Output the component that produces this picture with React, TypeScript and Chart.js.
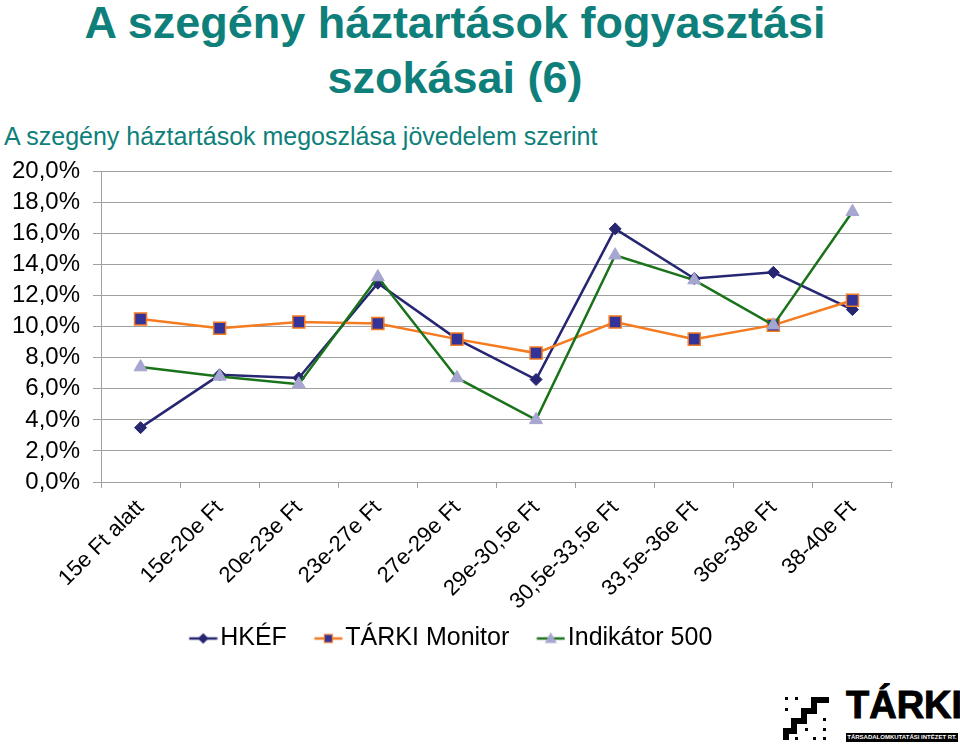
import React, { useEffect, useRef } from "react";
import { Chart, registerables } from "chart.js";

Chart.register(...registerables);

const categories = [
  "15e Ft alatt",
  "15e-20e Ft",
  "20e-23e Ft",
  "23e-27e Ft",
  "27e-29e Ft",
  "29e-30,5e Ft",
  "30,5e-33,5e Ft",
  "33,5e-36e Ft",
  "36e-38e Ft",
  "38-40e Ft",
];
const hkef = [3.5, 6.9, 6.7, 12.8, 9.2, 6.6, 16.3, 13.1, 13.5, 11.1];
const tarkiMonitor = [10.5, 9.9, 10.3, 10.2, 9.2, 8.3, 10.3, 9.2, 10.1, 11.7];
const indikator500 = [7.4, 6.8, 6.3, 13.2, 6.7, 4.0, 14.6, 13.0, 10.1, 17.4];
const seriesNames = ["HKÉF", "TÁRKI Monitor", "Indikátor 500"];
const yMin = 0;
const yMax = 20;
const yStep = 2;

const FONT = "'Liberation Sans', Arial, sans-serif";
const TEAL = "#0E7F7A";

const NAVY = "#262673";
const ORANGE = "#F47B20";
const SQUARE_FILL = "#333399";
const GREEN = "#1A731A";
const TRI_FILL = "#A6A6D0";

function legendIcon(kind: string, lineColor: string, fill: string, border: string) {
  const W = 48;
  const H = 18;
  const c = document.createElement("canvas");
  c.width = W;
  c.height = H;
  const ctx = c.getContext("2d")!;
  const cy = H / 2;
  ctx.strokeStyle = lineColor;
  ctx.lineWidth = 2.5;
  ctx.beginPath();
  ctx.moveTo(19.5, cy);
  ctx.lineTo(47.5, cy);
  ctx.stroke();
  const cx = 33.5;
  ctx.fillStyle = fill;
  ctx.strokeStyle = border;
  ctx.lineWidth = 1.2;
  ctx.beginPath();
  if (kind === "diamond") {
    ctx.moveTo(cx, cy - 4.5);
    ctx.lineTo(cx + 4.5, cy);
    ctx.lineTo(cx, cy + 4.5);
    ctx.lineTo(cx - 4.5, cy);
    ctx.closePath();
  } else if (kind === "square") {
    ctx.rect(cx - 4, cy - 4, 8, 8);
  } else {
    ctx.moveTo(cx, cy - 5);
    ctx.lineTo(cx + 5, cy + 4);
    ctx.lineTo(cx - 5, cy + 4);
    ctx.closePath();
  }
  ctx.fill();
  ctx.stroke();
  return c;
}

export default function App() {
  const ref = useRef<HTMLCanvasElement>(null);

  useEffect(() => {
    Chart.defaults.font.family = FONT;
    const icons = [
      legendIcon("diamond", NAVY, NAVY, NAVY),
      legendIcon("square", ORANGE, SQUARE_FILL, ORANGE),
      legendIcon("triangle", GREEN, TRI_FILL, TRI_FILL),
    ];
    const chart = new Chart(ref.current!, {
      type: "line",
      data: {
        labels: categories,
        datasets: [
          {
            label: seriesNames[0],
            data: hkef,
            order: 3,
            borderColor: NAVY,
            borderWidth: 2.5,
            pointStyle: "rectRot",
            pointRadius: 6,
            pointBackgroundColor: NAVY,
            pointBorderColor: NAVY,
            pointBorderWidth: 1,
            tension: 0,
          },
          {
            label: seriesNames[1],
            data: tarkiMonitor,
            order: 2,
            borderColor: ORANGE,
            borderWidth: 2.5,
            pointStyle: "rect",
            pointRadius: 8.5,
            pointBackgroundColor: SQUARE_FILL,
            pointBorderColor: ORANGE,
            pointBorderWidth: 1.5,
            tension: 0,
          },
          {
            label: seriesNames[2],
            data: indikator500,
            order: 1,
            borderColor: GREEN,
            borderWidth: 2.5,
            pointStyle: "triangle",
            pointRadius: 7.5,
            pointBackgroundColor: TRI_FILL,
            pointBorderColor: TRI_FILL,
            pointBorderWidth: 1,
            tension: 0,
          },
        ],
      },
      options: {
        animation: false,
        responsive: false,
        maintainAspectRatio: false,
        layout: { padding: { top: 0, right: 68, bottom: 1, left: 0 } },
        plugins: {
          tooltip: { enabled: false },
          title: { display: false },
          legend: {
            display: true,
            position: "bottom",
            labels: {
              usePointStyle: true,
              pointStyleWidth: 28,
              padding: 18,
              color: "#000",
              font: { family: FONT, size: 25 },
              sort: (a: any, b: any) => a.datasetIndex - b.datasetIndex,
              generateLabels: (ch: any) => {
                const items = (Chart.defaults.plugins.legend.labels as any).generateLabels(ch);
                return items.map((it: any) => ({ ...it, pointStyle: icons[it.datasetIndex] }));
              },
            },
          },
        },
        scales: {
          x: {
            type: "category",
            offset: true,
            afterFit: (s: any) => {
              s.height = 126;
            },
            grid: {
              display: true,
              drawOnChartArea: false,
              drawTicks: true,
              tickLength: 6,
              color: "#A0A0A0",
              offset: true,
            },
            border: { display: true, color: "#A0A0A0", width: 1 },
            ticks: {
              autoSkip: false,
              maxRotation: 45,
              minRotation: 45,
              padding: 7,
              color: "#000",
              font: { family: FONT, size: 22 },
            },
          },
          y: {
            min: yMin,
            max: yMax,
            afterFit: (s: any) => {
              s.width = 101;
            },
            grid: {
              color: "#A0A0A0",
              lineWidth: 1,
              drawTicks: true,
              tickLength: 8,
            },
            border: { display: true, color: "#A0A0A0", width: 1 },
            ticks: {
              stepSize: yStep,
              autoSkip: false,
              padding: 13,
              color: "#000",
              font: { family: FONT, size: 24 },
              callback: (v: any) => Number(v).toFixed(1).replace(".", ",") + "%",
            },
          },
        },
      },
    });
    return () => chart.destroy();
  }, []);

  const dot = (x: number, y: number, k: number) => (
    <rect key={"d" + k} x={x} y={y} width={3} height={3} fill="#000" />
  );
  const dots = [
    [2, 3], [12, 3], [2, 14], [30, 14], [12, 24], [40, 24], [22, 34], [40, 34], [12, 43], [30, 43], [40, 43],
  ];

  return (
    <div
      style={{
        position: "absolute",
        left: 0,
        top: 0,
        width: 960,
        height: 745,
        background: "#fff",
        fontFamily: FONT,
        overflow: "hidden",
      }}
    >
      <div
        style={{
          position: "absolute",
          left: 0,
          top: 0,
          width: 910,
          textAlign: "center",
          fontSize: 45,
          lineHeight: "45px",
          fontWeight: "bold",
          color: TEAL,
          whiteSpace: "nowrap",
        }}
      >
        A szegény háztartások fogyasztási
      </div>
      <div
        style={{
          position: "absolute",
          left: 0,
          top: 55,
          width: 910,
          textAlign: "center",
          fontSize: 45,
          lineHeight: "45px",
          fontWeight: "bold",
          color: TEAL,
          whiteSpace: "nowrap",
        }}
      >
        szokásai (6)
      </div>
      <div
        style={{
          position: "absolute",
          left: 4,
          top: 124,
          fontSize: 25,
          lineHeight: "25px",
          color: TEAL,
          whiteSpace: "nowrap",
        }}
      >
        A szegény háztartások megoszlása jövedelem szerint
      </div>
      <canvas
        ref={ref}
        width={960}
        height={518}
        style={{ position: "absolute", left: 0, top: 144, width: 960, height: 518 }}
      />
      <svg
        width={46}
        height={48}
        style={{ position: "absolute", left: 783, top: 694 }}
      >
        <path
          d="M0 46 L0 34 L8 34 L8 24 L18 24 L18 14 L28 14 L28 3 L46 3 L46 9 L34 9 L34 20 L24 20 L24 30 L14 30 L14 40 L6 40 L6 46 Z"
          fill="#000"
        />
        {dots.map((d, i) => dot(d[0], d[1], i))}
      </svg>
      <div
        style={{
          position: "absolute",
          left: 846,
          top: 686,
          width: 112,
          textAlign: "center",
          fontSize: 38,
          lineHeight: "38px",
          fontWeight: "bold",
          color: "#000",
          WebkitTextStroke: "1px #000",
          whiteSpace: "nowrap",
        }}
      >
        TÁRKI
      </div>
      <div
        style={{
          position: "absolute",
          left: 846,
          top: 733,
          width: 112,
          height: 9,
          background: "#000",
          color: "#fff",
          fontSize: 6,
          lineHeight: "9px",
          fontWeight: "bold",
          textAlign: "center",
          whiteSpace: "nowrap",
          overflow: "hidden",
        }}
      >
        TÁRSADALOMKUTATÁSI INTÉZET RT.
      </div>
    </div>
  );
}
